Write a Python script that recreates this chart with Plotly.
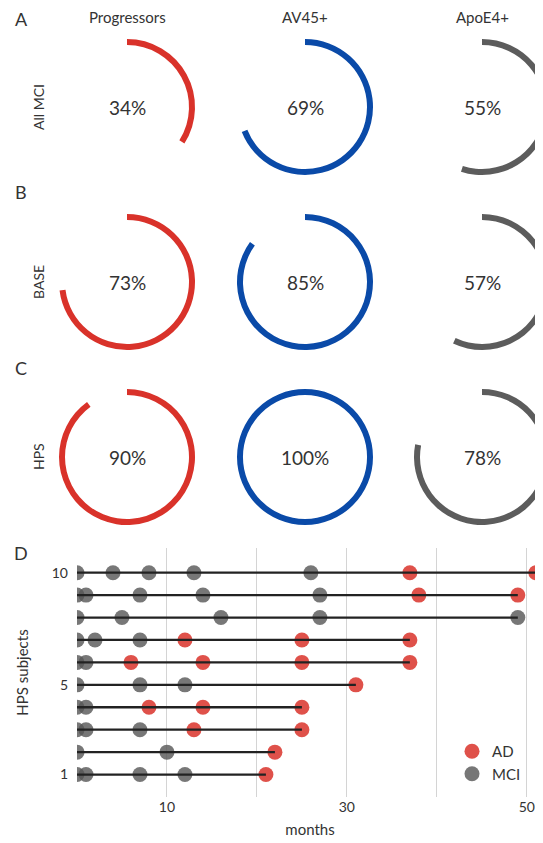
import plotly.graph_objects as go

# The page body has an 8px default margin, so positions are given in window
# pixels and converted; the figure runs a little past the window's right edge
# so the right-hand rings are clipped as in the reference.
OFF = 8
W, H = 543, 835

# ---------------- data ----------------
cohorts = ["All MCI", "BASE", "HPS"]
panel_letters = ["A", "B", "C"]
measures = ["Progressors", "AV45+", "ApoE4+"]
progressors_pct = [34, 73, 90]
av45_pct = [69, 85, 100]
apoe4_pct = [55, 57, 78]
measure_colors = ["#d9322a", "#0a4aa8", "#5c5c5c"]

subjects = [1, 2, 3, 4, 5, 6, 7, 8, 9, 10]
mci_months = [
    [0, 1, 7, 12],
    [0, 10],
    [0, 1, 7],
    [0, 1],
    [0, 7, 12],
    [0, 1],
    [0, 2, 7],
    [0, 5, 16, 27, 49],
    [0, 1, 7, 14, 27],
    [0, 4, 8, 13, 26],
]
ad_months = [
    [21],
    [22],
    [13, 25],
    [8, 14, 25],
    [31],
    [6, 14, 25, 37],
    [12, 25, 37],
    [],
    [38, 49],
    [37, 51],
]
x_tickvals = [10, 30, 50]
y_tickvals = [1, 5, 10]

FONT = "Lato, 'Open Sans', sans-serif"
TXT = "#333333"


def px_x(x):
    return (x - OFF) / W


def px_y(y):
    return 1 - (y - OFF) / H


def label(x, y, text, size, angle=0):
    fig.add_annotation(x=px_x(x), y=px_y(y), xref="paper", yref="paper",
                       xanchor="center", yanchor="middle",
                       text=text, textangle=angle, showarrow=False,
                       font=dict(family=FONT, size=size, color=TXT))


fig = go.Figure()

# ---------------- ring panels ----------------
col_cx = [127, 305, 482]
row_cy = [107, 282, 457]
ring_r = 68
ring_w = 6
pct_rows = list(zip(progressors_pct, av45_pct, apoe4_pct))

for ri, cy in enumerate(row_cy):
    for ci, cx in enumerate(col_cx):
        p = pct_rows[ri][ci]
        fig.add_trace(go.Pie(
            values=[p, 100 - p],
            marker=dict(colors=[measure_colors[ci], "rgba(0,0,0,0)"],
                        line=dict(width=0)),
            hole=(ring_r - ring_w) / ring_r,
            sort=False, direction="clockwise", rotation=0,
            textinfo="none", hoverinfo="skip", showlegend=False,
            domain=dict(x=[px_x(cx - ring_r), min(1, px_x(cx + ring_r))],
                        y=[px_y(cy + ring_r), px_y(cy - ring_r)]),
        ))
        label(cx, cy, f"{p}%", 19)
    label(38, cy, cohorts[ri], 14, angle=-90)

for li, ly in enumerate([19, 192, 368]):
    label(21, ly, panel_letters[li], 18)
label(21, 553, "D", 18)

for ci, cx in enumerate(col_cx):
    label(cx, 17, measures[ci], 15)

# ---------------- timeline panel ----------------
ad_x, ad_y, mci_x, mci_y = [], [], [], []
for s, m_list, a_list in zip(subjects, mci_months, ad_months):
    mci_x += m_list
    mci_y += [s] * len(m_list)
    ad_x += a_list
    ad_y += [s] * len(a_list)

fig.add_trace(go.Scatter(x=ad_x, y=ad_y, mode="markers", name="AD",
                         marker=dict(size=15, color="#d9322a", opacity=0.85),
                         hoverinfo="skip", xaxis="x", yaxis="y"))
fig.add_trace(go.Scatter(x=mci_x, y=mci_y, mode="markers", name="MCI",
                         marker=dict(size=15, color="#555555", opacity=0.8),
                         hoverinfo="skip", xaxis="x", yaxis="y"))

line_x, line_y = [], []
for s, m_list, a_list in zip(subjects, mci_months, ad_months):
    allm = m_list + a_list
    line_x += [min(allm), max(allm), None]
    line_y += [s, s, None]
fig.add_trace(go.Scatter(x=line_x, y=line_y, mode="lines",
                         line=dict(color="#222222", width=2.3),
                         showlegend=False, hoverinfo="skip",
                         xaxis="x", yaxis="y"))

fig.update_layout(
    width=W, height=H,
    margin=dict(l=0, r=0, t=0, b=0),
    paper_bgcolor="white", plot_bgcolor="white",
    font=dict(family=FONT, size=14, color=TXT),
    xaxis=dict(domain=[px_x(77), px_x(543)], range=[0, 51.8],
               tickvals=x_tickvals, showgrid=True, gridcolor="#d4d4d4",
               gridwidth=1, zeroline=False, showline=False,
               ticks="", tickfont=dict(size=14, color=TXT),
               minor=dict(tickvals=[0, 20, 40], showgrid=True,
                          gridcolor="#d4d4d4", gridwidth=1),
               title=dict(text="months", font=dict(size=15, color=TXT),
                          standoff=10)),
    yaxis=dict(domain=[px_y(797), px_y(548)], range=[0, 11.1],
               tickvals=y_tickvals, showgrid=False, zeroline=False,
               showline=False, ticks="", tickfont=dict(size=14, color=TXT),
               ticklabelstandoff=8,
               title=dict(text="HPS subjects", font=dict(size=15, color=TXT),
                          standoff=19)),
    legend=dict(x=px_x(452), y=px_y(735), xanchor="left", yanchor="top",
                bgcolor="rgba(0,0,0,0)", font=dict(size=15, color=TXT),
                itemsizing="trace", tracegroupgap=0),
)

fig.write_html("out.html")
